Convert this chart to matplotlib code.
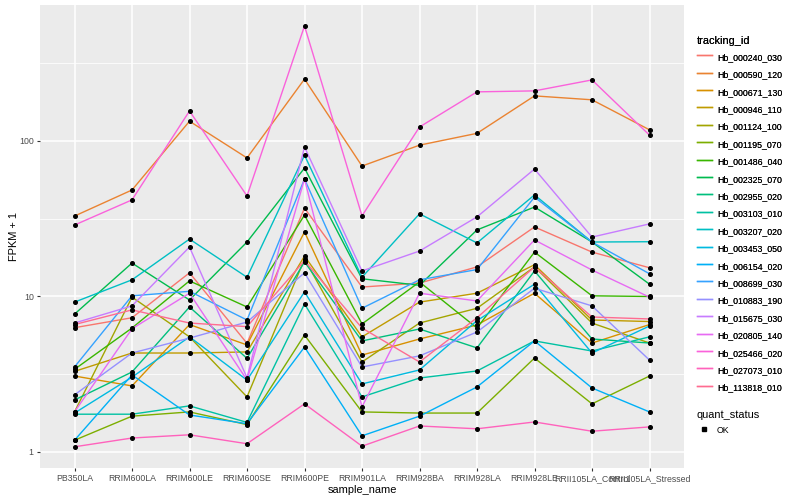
import numpy as np
import matplotlib
matplotlib.use('Agg')
import matplotlib.pyplot as plt
from matplotlib.ticker import FixedLocator, NullFormatter
from matplotlib.lines import Line2D

plt.rcParams['font.family'] = ['Liberation Sans', 'DejaVu Sans']

samples = ['PB350LA', 'RRIM600LA', 'RRIM600LE', 'RRIM600SE', 'RRIM600PE',
           'RRIM901LA', 'RRIM928BA', 'RRIM928LA', 'RRIM928LE',
           'RRII105LA_Control', 'RRII105LA_Stressed']

tracking_ids = ['Hb_000240_030', 'Hb_000590_120', 'Hb_000671_130', 'Hb_000946_110',
                'Hb_001124_100', 'Hb_001195_070', 'Hb_001486_040', 'Hb_002325_070',
                'Hb_002955_020', 'Hb_003103_010', 'Hb_003207_020', 'Hb_003453_050',
                'Hb_006154_020', 'Hb_008699_030', 'Hb_010883_190', 'Hb_015675_030',
                'Hb_020805_140', 'Hb_025466_020', 'Hb_027073_010', 'Hb_113818_010']

# ggplot hue palette, 20 levels
colors = ['#F8766D', '#EA8331', '#D89000', '#C09B00', '#A3A500', '#7CAE00',
          '#39B600', '#00BB4E', '#00BF7D', '#00C1A3', '#00BFC4', '#00BAE0',
          '#00B0F6', '#35A2FF', '#9590FF', '#C77CFF', '#E76BF3', '#FA62DB',
          '#FF62BC', '#FF6C91']

# FPKM + 1
Hb_000240_030 = [6.3, 7.3, 14.2, 5.0, 37.0, 11.5, 12.2, 15.5, 28.0, 19.3, 15.3]
Hb_000590_120 = [32.9, 48.4, 134.0, 77.8, 250.0, 69.0, 94.0, 112.0, 195.0, 184.0, 118.0]
Hb_000671_130 = [3.08, 2.66, 6.6, 4.88, 26.0, 4.2, 5.33, 6.56, 10.5, 5.02, 6.6]
Hb_000946_110 = [3.3, 4.33, 4.33, 4.4, 18.2, 5.5, 9.2, 10.5, 16.0, 7.06, 6.9]
Hb_001124_100 = [1.81, 9.9, 5.5, 2.26, 17.4, 3.79, 6.75, 8.4, 15.5, 6.75, 5.02]
Hb_001195_070 = [1.19, 1.7, 1.81, 1.5, 5.65, 1.81, 1.78, 1.78, 4.02, 2.04, 3.08]
Hb_001486_040 = [3.4, 6.27, 12.6, 8.56, 33.4, 6.66, 12.4, 6.27, 19.3, 10.1, 10.0]
Hb_002325_070 = [7.7, 16.4, 9.5, 22.4, 67.0, 13.0, 11.8, 26.8, 37.6, 22.4, 12.0]
Hb_002955_020 = [2.16, 3.27, 8.56, 4.0, 16.7, 5.18, 6.18, 4.67, 14.6, 5.33, 5.02]
Hb_003103_010 = [1.75, 1.75, 1.98, 1.55, 8.95, 2.26, 2.99, 3.32, 5.18, 4.46, 5.5]
Hb_003207_020 = [9.2, 12.8, 23.4, 13.3, 81.0, 13.3, 34.0, 22.1, 45.0, 22.4, 22.5]
Hb_003453_050 = [1.78, 3.03, 5.5, 2.9, 10.7, 2.74, 3.37, 7.0, 12.0, 4.33, 6.46]
Hb_006154_020 = [1.19, 3.13, 1.73, 1.52, 4.73, 1.27, 1.7, 2.62, 5.18, 2.58, 1.81]
Hb_008699_030 = [3.52, 10.1, 10.8, 7.06, 57.0, 8.4, 12.8, 14.9, 43.6, 22.4, 14.0]
Hb_010883_190 = [2.33, 4.33, 5.4, 6.85, 14.2, 3.52, 4.15, 5.91, 11.3, 8.7, 3.9]
Hb_015675_030 = [6.75, 8.7, 20.8, 3.0, 91.5, 14.6, 19.6, 32.5, 66.0, 24.1, 29.3]
Hb_020805_140 = [1.81, 6.2, 10.5, 2.9, 57.0, 1.95, 10.5, 9.36, 23.1, 14.8, 9.9]
Hb_025466_020 = [28.8, 41.8, 156.0, 44.3, 549.0, 33.0, 123.0, 207.0, 210.0, 247.0, 109.0]
Hb_027073_010 = [1.08, 1.23, 1.29, 1.13, 2.04, 1.09, 1.47, 1.41, 1.56, 1.36, 1.45]
Hb_113818_010 = [6.6, 8.2, 6.75, 6.4, 17.0, 6.27, 3.79, 7.3, 15.5, 7.38, 7.17]

series = [Hb_000240_030, Hb_000590_120, Hb_000671_130, Hb_000946_110,
          Hb_001124_100, Hb_001195_070, Hb_001486_040, Hb_002325_070,
          Hb_002955_020, Hb_003103_010, Hb_003207_020, Hb_003453_050,
          Hb_006154_020, Hb_008699_030, Hb_010883_190, Hb_015675_030,
          Hb_020805_140, Hb_025466_020, Hb_027073_010, Hb_113818_010]

fig = plt.figure(figsize=(8, 5), dpi=100)
ax = fig.add_axes([0.05, 0.064, 0.805, 0.926])
ax.set_facecolor('#EBEBEB')

x = np.arange(len(samples))
for name, vals, col in zip(tracking_ids, series, colors):
    ax.plot(x, vals, color=col, lw=1.0, label=name, zorder=3)
for vals in series:
    ax.plot(x, vals, linestyle='none', marker='o', ms=2.6, color='black', zorder=4)

ax.set_yscale('log')
ax.set_ylim(0.789, 749)
ax.set_xlim(-0.6, len(samples) - 0.4)
ax.set_xticks(x)
ax.set_xticklabels(samples)
ax.yaxis.set_major_locator(FixedLocator([1, 10, 100]))
ax.set_yticklabels(['1', '10', '100'])
ax.yaxis.set_minor_locator(FixedLocator([10 ** 0.5, 10 ** 1.5, 10 ** 2.5]))
ax.yaxis.set_minor_formatter(NullFormatter())

ax.grid(which='major', color='white', lw=1.1)
ax.grid(which='minor', axis='y', color='white', lw=0.55)
ax.set_axisbelow(True)
for s in ax.spines.values():
    s.set_visible(False)
ax.tick_params(which='major', length=2.5, width=0.8, color='#333333',
               labelsize=6.3, labelcolor='#4D4D4D', pad=2)
ax.tick_params(which='minor', length=0)

ax.set_xlabel('sample_name', fontsize=7.9, labelpad=1)
ax.set_ylabel('FPKM + 1', fontsize=7.9, labelpad=0)

leg_kw = dict(loc='upper left', frameon=False, fontsize=6.3, title_fontsize=7.9,
              alignment='left', labelspacing=0.45, handleheight=1.99,
              handlelength=1.7, handletextpad=0.6, borderpad=0, borderaxespad=0)

leg1 = fig.legend(handles=ax.get_lines()[:20], labels=tracking_ids,
                  title='tracking_id', bbox_to_anchor=(0.871, 0.927), **leg_kw)

ok_handle = Line2D([], [], linestyle='none', marker='s', ms=2.5, color='black')
leg2 = fig.legend(handles=[ok_handle], labels=['OK'], title='quant_status',
                  bbox_to_anchor=(0.871, 0.18), **leg_kw)
fig.add_artist(leg1)

fig.savefig('out.png', dpi=100)
